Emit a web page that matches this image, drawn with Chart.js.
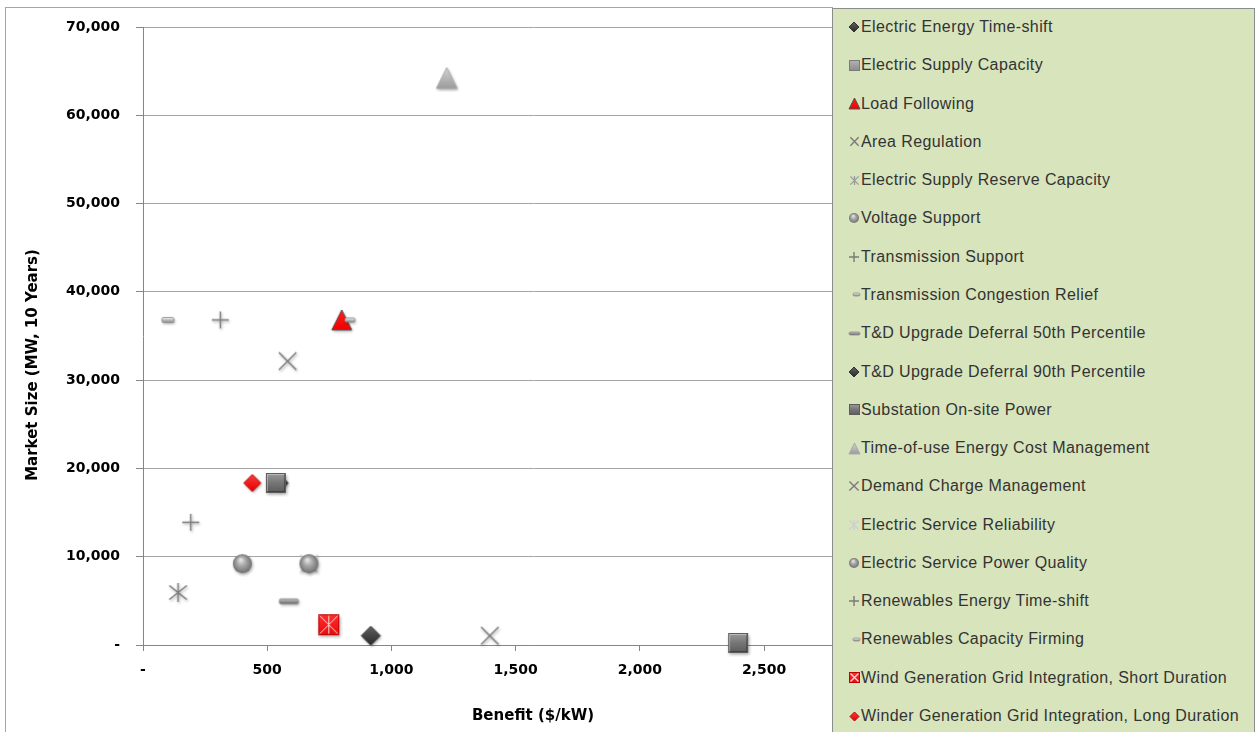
<!DOCTYPE html>
<html>
<head>
<meta charset="utf-8">
<script src="https://cdn.jsdelivr.net/npm/chart.js@4.4.1/dist/chart.umd.min.js"></script>
<style>
html,body{margin:0;padding:0;background:#fff;width:1255px;height:732px;overflow:hidden;}
#frame{position:absolute;left:5px;top:7px;width:827px;height:760px;border-left:1px solid #a6a6a6;border-top:1px solid #a6a6a6;}
#c{position:absolute;left:0;top:0;}
#legend{position:absolute;left:832px;top:8px;width:421px;height:760px;background:#d8e4bc;border:1px solid #8c8c8c;
  font-family:"Liberation Sans",Arial,sans-serif;font-size:16px;color:#333;letter-spacing:0.4px;}
.item{position:absolute;left:0;height:20px;width:420px;line-height:20px;white-space:nowrap;}
.item canvas{position:absolute;}
.item span{position:absolute;left:28px;top:0;}
</style>
</head>
<body>
<div id="frame"></div>
<canvas id="c" width="1255" height="732"></canvas>
<div id="legend"></div>
<script>
// ---------------- data ----------------
const seriesNames = [
  "Electric Energy Time-shift",
  "Electric Supply Capacity",
  "Load Following",
  "Area Regulation",
  "Electric Supply Reserve Capacity",
  "Voltage Support",
  "Transmission Support",
  "Transmission Congestion Relief",
  "T&D Upgrade Deferral 50th Percentile",
  "T&D Upgrade Deferral 90th Percentile",
  "Substation On-site Power",
  "Time-of-use Energy Cost Management",
  "Demand Charge Management",
  "Electric Service Reliability",
  "Electric Service Power Quality",
  "Renewables Energy Time-shift",
  "Renewables Capacity Firming",
  "Wind Generation Grid Integration, Short Duration",
  "Winder Generation Grid Integration, Long Duration"
];
// Benefit ($/kW)
const benefitValues = [550, 535, 800, 1396, 141, 400, 192, 100, 587, 917, 2396, 1223, 582, 668, 668, 311, 833, 748, 440];
// Market Size (MW, 10 Years)
const marketSizeValues = [18350, 18350, 36822, 1050, 5950, 9217, 13900, 36822, 4950, 1050, 230, 64228, 32161, 9217, 9217, 36822, 36822, 2300, 18350];
const xTickValues = [0, 500, 1000, 1500, 2000, 2500];
const yTickValues = [0, 10000, 20000, 30000, 40000, 50000, 60000, 70000];
const xTitle = "Benefit ($/kW)";
const yTitle = "Market Size (MW, 10 Years)";

// ---------------- styles ----------------
const markerKinds = ["diamondDark","squareGray","triRed","xGray","starGray","sphere","plusGray","dashSmall","dashLong",
  "diamondDark","squareGray","triLight","xGray","starLight","sphere","plusGray","dashSmall","redXSquare","diamondRed"];
const plotSizes   = [17,20,20,19,19,19,17,12,19,19,20,21,19,19,19,17,10,21,17];
const legendSizes = [10,11,11,9,9,10,10,7,11,10,11,11,10,10,10,10,7,11,9];
const legendKinds = ["diamondDark","squareLight","triRed","xGray","starMid","sphere","plusGray","dashSmall","dashLong",
  "diamondDark","squareGray","triLight","xGray","starLight","sphere","plusGray","dashSmall","redXSquare","diamondRed"];

function drawMarker(g, kind, s, cx, cy, shadow) {
  const h = s / 2;
  g.save();
  if (shadow) { g.shadowColor = 'rgba(0,0,0,0.35)'; g.shadowBlur = 3; g.shadowOffsetX = 1; g.shadowOffsetY = 1.5; }
  let gr;
  const lineMark = (col, lw, segs) => {
    g.strokeStyle = col; g.lineWidth = lw; g.lineCap = 'butt';
    g.beginPath();
    segs.forEach(sg => { g.moveTo(cx + sg[0], cy + sg[1]); g.lineTo(cx + sg[2], cy + sg[3]); });
    g.stroke();
  };
  const d = h * 0.92;
  switch (kind) {
    case 'diamondDark':
    case 'diamondRed': {
      gr = g.createLinearGradient(cx, cy - h, cx, cy + h);
      if (kind === 'diamondDark') { gr.addColorStop(0, '#606060'); gr.addColorStop(1, '#2a2a2a'); }
      else { gr.addColorStop(0, '#ff3a3a'); gr.addColorStop(1, '#e00000'); }
      g.beginPath(); g.moveTo(cx, cy - h); g.lineTo(cx + h, cy); g.lineTo(cx, cy + h); g.lineTo(cx - h, cy); g.closePath();
      g.fillStyle = gr; g.fill();
      g.shadowColor = 'transparent';
      g.strokeStyle = kind === 'diamondDark' ? '#333' : '#c00000'; g.lineWidth = 1; g.stroke();
      break;
    }
    case 'squareGray':
    case 'squareLight': {
      gr = g.createLinearGradient(cx, cy - h, cx, cy + h);
      if (kind === 'squareGray') { gr.addColorStop(0, '#9c9c9c'); gr.addColorStop(0.5, '#767676'); gr.addColorStop(1, '#5a5a5a'); }
      else { gr.addColorStop(0, '#b4b4b4'); gr.addColorStop(1, '#8a8a8a'); }
      g.fillStyle = gr; g.fillRect(cx - h, cy - h, s, s);
      g.shadowColor = 'transparent';
      if (s > 14) {
        g.strokeStyle = 'rgba(255,255,255,0.35)'; g.lineWidth = 2;
        g.beginPath(); g.moveTo(cx - h + 1, cy + h - 1); g.lineTo(cx - h + 1, cy - h + 1); g.lineTo(cx + h - 1, cy - h + 1); g.stroke();
        g.strokeStyle = 'rgba(0,0,0,0.3)';
        g.beginPath(); g.moveTo(cx + h - 1, cy - h + 1); g.lineTo(cx + h - 1, cy + h - 1); g.lineTo(cx - h + 1, cy + h - 1); g.stroke();
      }
      g.strokeStyle = kind === 'squareGray' ? '#5c5c5c' : '#7a7a7a'; g.lineWidth = 1; g.strokeRect(cx - h + 0.5, cy - h + 0.5, s - 1, s - 1);
      break;
    }
    case 'triRed':
    case 'triLight': {
      gr = g.createLinearGradient(cx, cy - h, cx, cy + h);
      if (kind === 'triRed') { gr.addColorStop(0, '#ff2020'); gr.addColorStop(1, '#f00000'); }
      else { gr.addColorStop(0, '#d4d4d4'); gr.addColorStop(1, '#9a9a9a'); }
      g.beginPath(); g.moveTo(cx, cy - h); g.lineTo(cx + h, cy + h); g.lineTo(cx - h, cy + h); g.closePath();
      g.fillStyle = gr; g.fill();
      g.shadowColor = 'transparent';
      g.strokeStyle = kind === 'triRed' ? '#505050' : '#a8a8a8'; g.lineWidth = 1; g.stroke();
      break;
    }
    case 'xGray':
      lineMark('#7a7a7a', 1.4, [[-d, -d, d, d], [-d, d, d, -d]]); break;
    case 'starGray':
      lineMark('#7a7a7a', 1.4, [[-d, -d * 0.8, d, d * 0.8], [-d, d * 0.8, d, -d * 0.8], [0, -h, 0, h]]); break;
    case 'starMid':
      lineMark('#9a9a9a', 1.3, [[-d, -d, d, d], [-d, d, d, -d], [0, -h, 0, h]]); break;
    case 'starLight':
      lineMark('#cfcfcf', 1.4, [[-d, -d, d, d], [-d, d, d, -d], [0, -h, 0, h]]); break;
    case 'plusGray':
      lineMark('#7a7a7a', 1.4, [[-h, 0, h, 0], [0, -h, 0, h]]); break;
    case 'sphere': {
      gr = g.createRadialGradient(cx - h * 0.2, cy - h * 0.45, 0, cx, cy, h * 1.05);
      gr.addColorStop(0, '#eeeeee'); gr.addColorStop(0.45, '#a9a9a9'); gr.addColorStop(1, '#6c6c6c');
      g.beginPath(); g.arc(cx, cy, h, 0, Math.PI * 2); g.fillStyle = gr; g.fill();
      break;
    }
    case 'dashSmall':
    case 'dashLong': {
      const w = s, ht = kind === 'dashSmall' ? Math.max(3, s * 0.42) : Math.max(3, Math.round(s * 0.26));
      gr = g.createLinearGradient(cx, cy - ht / 2, cx, cy + ht / 2);
      if (kind === 'dashSmall') { gr.addColorStop(0, '#f2f2f2'); gr.addColorStop(1, '#8a8a8a'); }
      else { gr.addColorStop(0, '#c4c4c4'); gr.addColorStop(1, '#686868'); }
      g.beginPath();
      if (g.roundRect) g.roundRect(cx - w / 2, cy - ht / 2, w, ht, 1.5); else g.rect(cx - w / 2, cy - ht / 2, w, ht);
      g.fillStyle = gr; g.fill();
      g.shadowColor = 'transparent';
      g.strokeStyle = '#8a8a8a'; g.lineWidth = 0.8; g.stroke();
      break;
    }
    case 'redXSquare': {
      gr = g.createLinearGradient(cx, cy - h, cx, cy + h);
      gr.addColorStop(0, '#ff3030'); gr.addColorStop(1, '#e80a0a');
      g.fillStyle = gr; g.fillRect(cx - h, cy - h, s, s);
      g.shadowColor = 'transparent';
      g.strokeStyle = '#c00000'; g.lineWidth = 1; g.strokeRect(cx - h + 0.5, cy - h + 0.5, s - 1, s - 1);
      const k = h - 1.5;
      g.strokeStyle = 'rgba(255,225,225,0.95)'; g.lineWidth = s > 14 ? 1 : 1.3;
      g.beginPath();
      g.moveTo(cx - k, cy - k); g.lineTo(cx + k, cy + k);
      g.moveTo(cx - k, cy + k); g.lineTo(cx + k, cy - k);
      if (s > 14) { g.moveTo(cx, cy - k); g.lineTo(cx, cy + k); }
      g.stroke();
      break;
    }
  }
  g.restore();
}

function markerCanvas(kind, s, shadow) {
  const pad = shadow ? 4 : 1;
  const W = Math.ceil(s + pad * 2);
  const c = document.createElement('canvas');
  c.width = W; c.height = W;
  drawMarker(c.getContext('2d'), kind, s, W / 2, W / 2, shadow);
  return c;
}

// ---------------- legend (HTML) ----------------
const legendEl = document.getElementById('legend');
const legendFirstY = 27, legendStep = 38.28;
seriesNames.forEach((name, i) => {
  const it = document.createElement('div');
  it.className = 'item';
  const cy = legendFirstY + legendStep * i;
  it.style.top = (cy - 10 - 9) + 'px';
  const ic = markerCanvas(legendKinds[i], legendSizes[i], false);
  const iconCx = (legendKinds[i] === 'dashSmall') ? 23 : 21;
  ic.style.left = (iconCx - ic.width / 2) + 'px';
  ic.style.top = (10 - ic.height / 2) + 'px';
  it.appendChild(ic);
  const sp = document.createElement('span');
  sp.textContent = name;
  it.appendChild(sp);
  legendEl.appendChild(it);
});

// ---------------- chart ----------------
const n = seriesNames.length;
const datasets = seriesNames.map((name, i) => ({
  label: name,
  data: [{ x: benefitValues[i], y: marketSizeValues[i] }],
  pointStyle: markerCanvas(markerKinds[i], plotSizes[i], true),
  pointRadius: 10,
  pointHoverRadius: 10,
  order: n - i,
  clip: false
}));

const fmt = v => v === 0 ? '-' : Number(v).toLocaleString('en-US');
const axisFont = { family: 'DejaVu Sans', weight: 'bold', size: 14 };
const titleFont = { family: 'DejaVu Sans', weight: 'bold', size: 15 };

const yTitlePlugin = {
  id: 'yTitlePlugin',
  afterDraw(chart) {
    const ctx = chart.ctx;
    ctx.save();
    ctx.translate(33, 365);
    ctx.rotate(-Math.PI / 2);
    ctx.font = 'bold 15px "DejaVu Sans"';
    ctx.fillStyle = '#000';
    ctx.textAlign = 'center';
    ctx.textBaseline = 'middle';
    ctx.fillText(yTitle, 0, 0);
    ctx.restore();
  }
};

new Chart(document.getElementById('c'), {
  type: 'scatter',
  data: { datasets },
  plugins: [yTitlePlugin],
  options: {
    responsive: false,
    animation: false,
    devicePixelRatio: 1,
    layout: { padding: { left: 0, right: 332, top: 27, bottom: 0 } },
    plugins: { legend: { display: false }, tooltip: { enabled: false } },
    scales: {
      x: {
        type: 'linear', min: 0, max: 3140,
        afterBuildTicks: s => { s.ticks = xTickValues.map(v => ({ value: v })); },
        afterFit: s => { s.height = 87; },
        grid: { drawOnChartArea: false, drawTicks: true, tickLength: 6, color: '#868686' },
        border: { display: true, color: '#868686' },
        ticks: { padding: 11, color: '#000', font: axisFont, callback: fmt, maxRotation: 0, autoSkip: false },
        title: { display: true, text: xTitle, color: '#000', font: titleFont, padding: { top: 0, bottom: 7 } }
      },
      y: {
        type: 'linear', min: 0, max: 70000,
        afterBuildTicks: s => { s.ticks = yTickValues.map(v => ({ value: v })); },
        afterFit: s => { s.width = 143; },
        grid: { color: '#a6a6a6', drawTicks: true, tickLength: 7, tickColor: '#868686' },
        border: { display: true, color: '#868686' },
        ticks: { padding: 16, color: '#000', font: axisFont, callback: fmt, autoSkip: false },
        title: { display: false }
      }
    }
  }
});
</script>
</body>
</html>
